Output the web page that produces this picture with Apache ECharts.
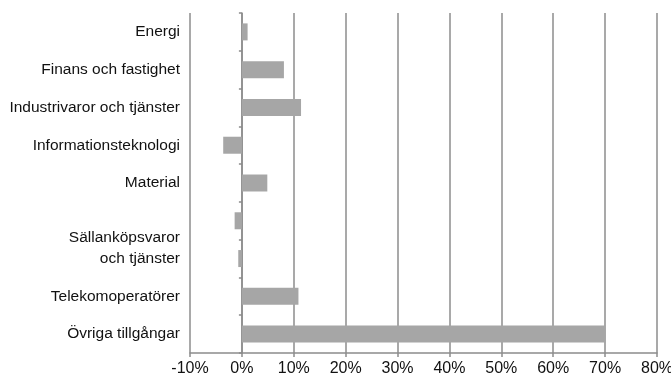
<!DOCTYPE html>
<html>
<head>
<meta charset="utf-8">
<script src="https://cdn.jsdelivr.net/npm/echarts@6/dist/echarts.min.js"></script>
<style>
  html, body { margin: 0; padding: 0; background: #fff; }
  #chart { width: 671px; height: 382px; }
</style>
</head>
<body>
<div id="chart"></div>
<script>
// Sector categories, top to bottom (one slot has no label of its own)
const categories = [
  'Energi',
  'Finans och fastighet',
  'Industrivaror och tjänster',
  'Informationsteknologi',
  'Material',
  '',
  'Sällanköpsvaror och tjänster',
  'Telekomoperatörer',
  'Övriga tillgångar'
];
// Return per sector, in percent
const values = [1.1, 8.1, 11.4, -3.6, 4.9, -1.4, -0.7, 10.9, 70.0];
// Value axis range and step, in percent
const axisMin = -10;
const axisMax = 80;
const axisStep = 10;

const FONT = '"Liberation Sans", Arial, sans-serif';
const GRID_COLOR = '#8c8c8c';
const TEXT_COLOR = '#111111';

const chart = echarts.init(document.getElementById('chart'), null, { renderer: 'canvas' });

chart.setOption({
  animation: false,
  backgroundColor: '#ffffff',
  grid: { left: 190, right: 14, top: 13, bottom: 29, containLabel: false, outerBoundsMode: 'none' },
  xAxis: {
    type: 'value',
    min: axisMin,
    max: axisMax,
    interval: axisStep,
    axisLine: { show: true, lineStyle: { color: GRID_COLOR, width: 1.5 } },
    axisTick: { show: true, length: 4, lineStyle: { color: GRID_COLOR, width: 1.5 } },
    splitLine: { show: true, lineStyle: { color: GRID_COLOR, width: 1.5 } },
    axisLabel: {
      margin: 8,
      color: TEXT_COLOR,
      fontFamily: FONT,
      fontSize: 16,
      formatter: v => v + '%'
    }
  },
  yAxis: {
    type: 'category',
    inverse: true,
    data: categories,
    axisLine: { show: true, onZero: true, lineStyle: { color: GRID_COLOR, width: 1.5 } },
    axisTick: { show: true, length: 3, lineStyle: { color: GRID_COLOR, width: 1.5 } },
    splitLine: { show: false },
    axisLabel: {
      margin: 10,
      interval: 0,
      hideOverlap: false,
      color: TEXT_COLOR,
      fontFamily: FONT,
      fontSize: 15.5,
      align: 'right',
      formatter: function (name) {
        if (name === 'Sällanköpsvaror och tjänster') {
          return '{wrap|Sällanköpsvaror\noch tjänster}';
        }
        return name;
      },
      rich: {
        wrap: {
          color: TEXT_COLOR,
          fontFamily: FONT,
          fontSize: 15.5,
          lineHeight: 21,
          align: 'right',
          padding: [0, 0, 21, 0]
        }
      }
    }
  },
  series: [{
    type: 'bar',
    data: values,
    barWidth: 17,
    itemStyle: { color: '#a6a6a6' }
  }]
});
</script>
</body>
</html>
